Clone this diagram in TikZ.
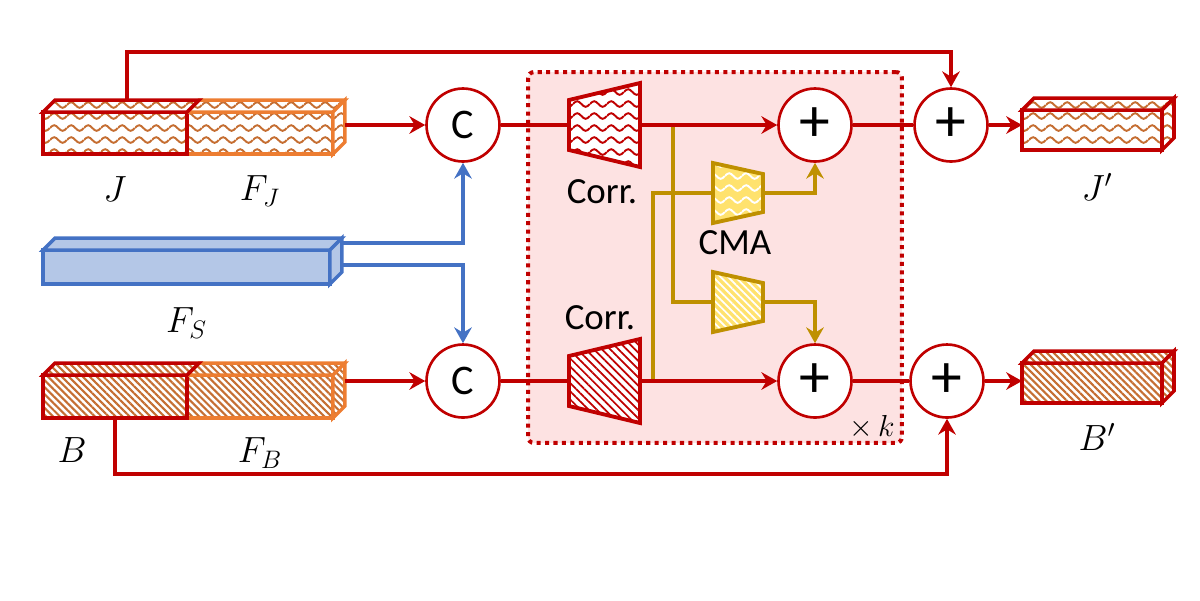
\documentclass[tikz,border=0pt]{standalone}
\usepackage{fontspec}
\setsansfont{Carlito}
\usetikzlibrary{arrows.meta,positioning,patterns.meta}
\definecolor{cred}{RGB}{192,0,0}
\definecolor{corange}{RGB}{237,125,49}
\definecolor{cbrown}{RGB}{197,110,50}
\definecolor{cblue}{RGB}{68,114,196}
\definecolor{cbluefill}{RGB}{180,199,231}
\definecolor{cgold}{RGB}{191,144,0}
\definecolor{cyellow}{RGB}{255,226,110}
\definecolor{cpink}{RGB}{253,226,226}
\tikzdeclarepattern{
    name=wavy,
    type=uncolored,
    bottom left={(0pt,0pt)},
    top right={(9.6pt,6.8pt)},
    tile size={(9.6pt,6.8pt)},
    code={
        \draw[line width=1.1pt] (0pt,3.4pt) sin (2.4pt,5pt) cos (4.8pt,3.4pt) sin (7.2pt,1.8pt) cos (9.6pt,3.4pt);
    }
}
\tikzset{
    face/.style={line width=2pt},
    jtex/.style={face,draw=#1,preaction={fill=white},pattern=wavy,pattern color=cbrown},
    btex/.style={face,draw=#1,preaction={fill=white},pattern={Lines[angle=-45,distance=2.8pt,line width=1.2pt]},pattern color=cbrown},
    stex/.style={face,draw=cblue,fill=cbluefill},
    cube/.style={rectangle,inner sep=0pt,outer sep=0pt,minimum height=0.84cm},
    op/.style={circle,draw=cred,line width=1.5pt,fill=white,minimum size=1.46cm,inner sep=0pt,font=\sffamily\fontsize{24}{24}\selectfont},
    plus/.style={op,font=\sffamily\fontsize{35}{35}\selectfont},
    loopbox/.style={draw=cred,line width=2.3pt,dash pattern=on 2.3pt off 2.5pt,fill=cpink,rounded corners=0.12cm,inner sep=0pt},
    lab/.style={font=\fontsize{21}{24}\selectfont,inner sep=0pt},
    txt/.style={font=\sffamily\fontsize{21}{24}\selectfont,inner sep=0pt},
    pre/.style={->,line width=1.8pt,draw=cred,>={Stealth[length=9pt,width=10pt,inset=3pt]}},
    bi/.style={-,line width=1.8pt,draw=cred},
    bpre/.style={pre,draw=cblue},
    gpre/.style={pre,draw=cgold},
    corrw/.style={line width=2.2pt,draw=cred,preaction={fill=white},pattern=wavy,pattern color=cred},
    corrh/.style={line width=2.2pt,draw=cred,preaction={fill=white},pattern={Lines[angle=-45,distance=3.3pt,line width=1pt]},pattern color=cred},
    cmaw/.style={line width=2.2pt,draw=cgold,preaction={fill=cyellow},pattern=wavy,pattern color=white},
    cmah/.style={line width=2.2pt,draw=cgold,preaction={fill=cyellow},pattern={Lines[angle=-45,distance=3pt,line width=1pt]},pattern color=white}
}
% top and side face of a feature block
\newcommand{\cubetop}[2]{\draw[#2] (#1.north west) -- ++(12,-12) -- ([shift={(12,-12)}]#1.north east) -- (#1.north east) -- cycle;}
\newcommand{\cubeside}[2]{\draw[#2] (#1.north east) -- ++(12,-12) -- ([shift={(12,-12)}]#1.south east) -- (#1.south east) -- cycle;}

\begin{document}
\begin{tikzpicture}[x=0.02cm,y=-0.02cm]
    \useasboundingbox (0,0) rectangle (1200,600);

    \node[loopbox,minimum width=7.48cm,minimum height=7.42cm] (loop) at (715,257.5) {};

    % input blocks
    \node[cube,jtex=corange,minimum width=2.92cm] (FJ) at (260,133) {};
    \node[cube,jtex=cred,minimum width=2.88cm,left=0pt of FJ] (J) {};
    \cubetop{FJ}{jtex=corange}
    \cubetop{J}{jtex=cred}
    \cubeside{FJ}{jtex=corange}

    \node[cube,stex,minimum width=5.74cm,minimum height=0.68cm] (FS) at (186.5,267) {};
    \cubetop{FS}{stex}
    \cubeside{FS}{stex}

    \node[cube,btex=corange,minimum width=2.92cm,minimum height=0.86cm] (FB) at (260,396.5) {};
    \node[cube,btex=cred,minimum width=2.88cm,minimum height=0.86cm,left=0pt of FB] (B) {};
    \cubetop{FB}{btex=corange}
    \cubetop{B}{btex=cred}
    \cubeside{FB}{btex=corange}

    % output blocks
    \node[cube,jtex=cred,minimum width=2.8cm,minimum height=0.8cm] (Jp) at (1092,130) {};
    \cubetop{Jp}{jtex=cred}
    \cubeside{Jp}{jtex=cred}
    \node[cube,btex=cred,minimum width=2.8cm,minimum height=0.8cm] (Bp) at (1092,383) {};
    \cubetop{Bp}{btex=cred}
    \cubeside{Bp}{btex=cred}

    \node[lab] (Jl) at ([yshift=-0.7cm]J.south) {$J$};
    \node[lab] (FJl) at ([yshift=-0.74cm]FJ.south) {$F_J$};
    \node[lab] (FSl) at ([yshift=-0.78cm]FS.south) {$F_S$};
    \node[lab] (Bl) at ([xshift=-0.86cm,yshift=-0.64cm]B.south) {$B$};
    \node[lab] (FBl) at ([yshift=-0.7cm]FB.south) {$F_B$};
    \node[lab] (Jpl) at ([xshift=0.1cm,yshift=-0.74cm]Jp.south) {$J'$};
    \node[lab] (Bpl) at ([xshift=0.1cm,yshift=-0.68cm]Bp.south) {$B'$};

    % operators
    \node[op] (cJ) at (463,125) {C};
    \node[op] (cB) at (463,381) {C};
    \node[plus] (plusA) at (815,125) {+};
    \node[plus] (plusB) at (815,381) {+};
    \node[plus] (plusJ) at (951,125) {+};
    \node[plus] (plusBo) at (947,381) {+};

    \coordinate (FJside) at ([xshift=0.24cm]FJ.east);
    \coordinate (FBside) at ([xshift=0.24cm]FB.east);
    \coordinate (FSa) at ([xshift=0.24cm,yshift=0.48cm]FS.east);
    \coordinate (FSb) at ([xshift=0.24cm,yshift=0.04cm]FS.east);
    \coordinate (Jtop) at ([xshift=0.24cm,yshift=0.24cm]J.north);
    \coordinate (splitJ) at (673,125);
    \coordinate (splitB) at (653,381);
    \coordinate (corrJ) at (604,125);
    \coordinate (corrB) at (604,381);
    \coordinate (cmaJ) at (738,193);
    \coordinate (cmaB) at (738,302);

    % cross-modal branches
    \draw[gpre] (splitJ) |- (cmaB) -| (plusB.north);
    \draw[gpre] (splitB) |- (cmaJ) -| (plusA.south);

    % main streams
    \draw[pre] (cJ.west -| FJside) -- (cJ);
    \draw[pre] (cB.west -| FBside) -- (cB);
    \draw[bpre] (FSa) -| (cJ.south);
    \draw[bpre] (FSb) -| (cB.north);
    \draw[pre] (cJ) -- (plusA);
    \draw[pre] (cB) -- (plusB);
    \draw[bi] (plusA) -- (plusJ);
    \draw[bi] (plusB) -- (plusBo);
    \draw[pre] (plusJ) -- (plusJ -| Jp.west);
    \draw[pre] (plusBo) -- (plusBo -| Bp.west);
    \draw[pre] (Jtop) -- ++(0,-48) -| (plusJ.north);
    \draw[pre] (B.south) -- ++(0,56) -| (plusBo.south);

    % correlation and CMA blocks
    \draw[corrw] ([shift={(-35,-25)}]corrJ) -- ++(71,-17) -- ++(0,84) -- ++(-71,-17) -- cycle;
    \draw[corrh] ([shift={(-35,-25)}]corrB) -- ++(71,-17) -- ++(0,84) -- ++(-71,-17) -- cycle;
    \draw[cmaw] ([shift={(-25,-30)}]cmaJ) -- ++(50,11) -- ++(0,38) -- ++(-50,11) -- cycle;
    \draw[cmah] ([shift={(-25,-30)}]cmaB) -- ++(50,11) -- ++(0,38) -- ++(-50,11) -- cycle;

    \node[txt] (corrJl) at (602,192) {Corr.};
    \node[txt] (corrBl) at (600,318) {Corr.};
    \node[txt] (cmal) at (735,243) {CMA};
    \node[lab,font=\fontsize{18}{20}\selectfont] (kl) at (872,427) {$\times\,k$};
\end{tikzpicture}
\end{document}
